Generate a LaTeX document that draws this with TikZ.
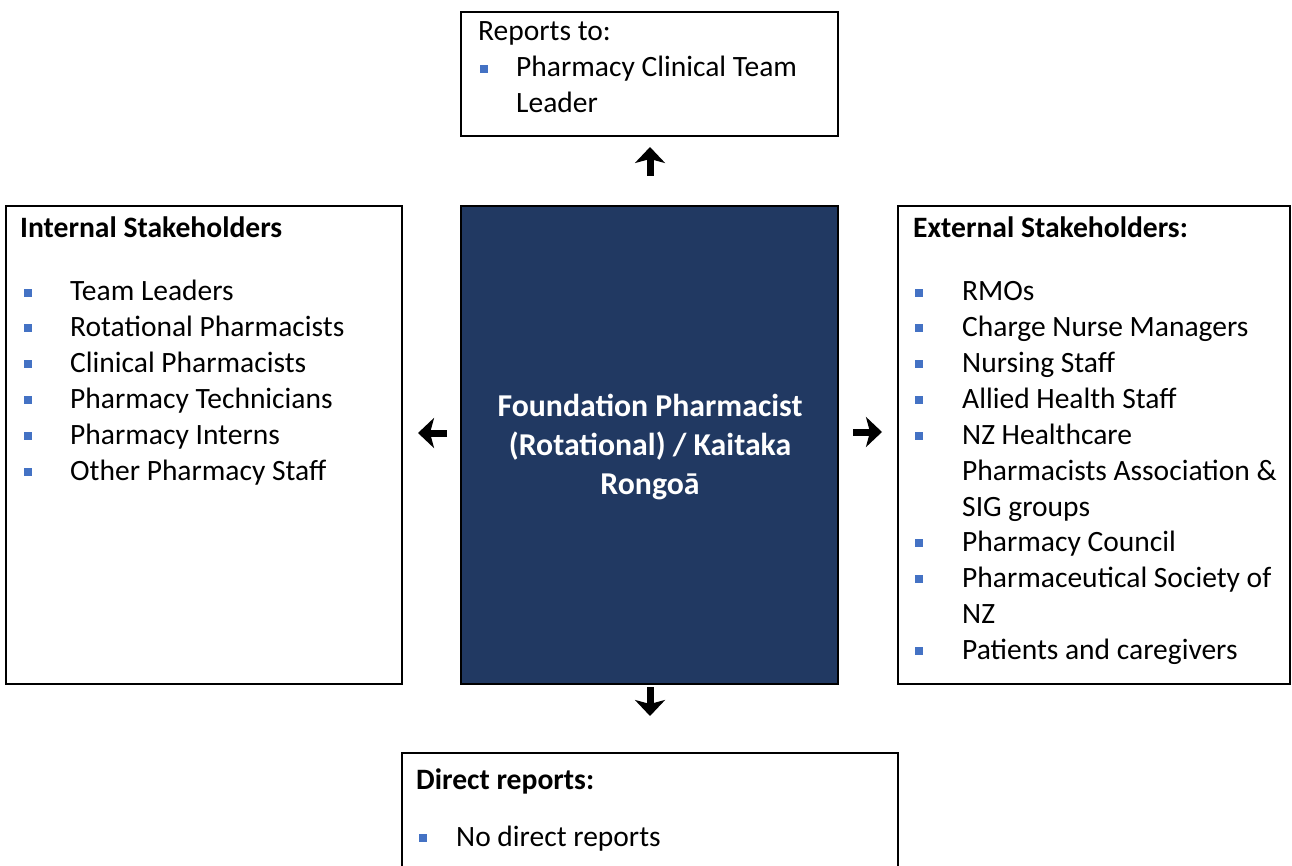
\documentclass[tikz,border=0pt]{standalone}
\usepackage{fontspec}
\setmainfont{Carlito}
\usetikzlibrary{arrows.meta}
\definecolor{navy}{RGB}{33,57,98}
\definecolor{bulletblue}{RGB}{68,114,196}
\newcommand{\bul}[1]{\textcolor{bulletblue}{\rule[4pt]{8pt}{8pt}}\hspace{#1}}
\begin{document}
\begin{tikzpicture}[x=1pt,y=-1pt,
  box/.style={draw=black,line width=2pt,inner sep=0pt},
  txt/.style={anchor=base west,inner sep=0pt,font=\fontsize{29.5}{36}\selectfont},
  head/.style={txt,font=\fontsize{29.6}{36}\selectfont\bfseries},
  ctr/.style={anchor=base,inner sep=0pt,text=white,font=\fontsize{31.8}{39}\selectfont\bfseries},
  glyph/.style={line width=7pt,-{Stealth[inset=4pt,length=16pt,width=30pt]}}]
\useasboundingbox (0,0) rectangle (1292,866);
\clip (0,0) rectangle (1292,866);
\fill[white] (0,0) rectangle (1292,866);
% boxes
\node[box,minimum width=377pt,minimum height=124pt] (top) at (649.5,74) {};
\node[box,minimum width=396pt,minimum height=478pt] (left) at (204,445) {};
\node[box,fill=navy,minimum width=377pt,minimum height=478pt] (center) at (649.5,445) {};
\node[box,minimum width=392pt,minimum height=478pt] (right) at (1094,445) {};
\node[box,minimum width=496pt,minimum height=130pt] (bottom) at (650,818) {};
% top box text
\node[txt] (t0) at (478,41) {Reports to:};
\node[txt] (t1) at (480,77) {\bul{28pt}Pharmacy Clinical Team};
\node[txt] (t2) at (516,113) {Leader};
% left box text
\node[head] (l0) at (20,238) {Internal Stakeholders};
\node[txt] (l1) at (24,301) {\bul{38pt}Team Leaders};
\node[txt] (l2) at (24,336) {\bul{38pt}Rotational Pharmacists};
\node[txt] (l3) at (24,372) {\bul{38pt}Clinical Pharmacists};
\node[txt] (l4) at (24,408) {\bul{38pt}Pharmacy Technicians};
\node[txt] (l5) at (24,444) {\bul{38pt}Pharmacy Interns};
\node[txt] (l6) at (24,480) {\bul{38pt}Other Pharmacy Staff};
% right box text
\node[head] (r0) at (913,238) {External Stakeholders:};
\node[txt] (r1) at (915,301) {\bul{39pt}RMOs};
\node[txt] (r2) at (915,336) {\bul{39pt}Charge Nurse Managers};
\node[txt] (r3) at (915,372) {\bul{39pt}Nursing Staff};
\node[txt] (r4) at (915,408) {\bul{39pt}Allied Health Staff};
\node[txt] (r5) at (915,444) {\bul{39pt}NZ Healthcare};
\node[txt] (r5b) at (962,480) {Pharmacists Association \&};
\node[txt] (r5c) at (962,516) {SIG groups};
\node[txt] (r6) at (915,551) {\bul{39pt}Pharmacy Council};
\node[txt] (r7) at (915,587) {\bul{39pt}Pharmaceutical Society of};
\node[txt] (r7b) at (962,623) {NZ};
\node[txt] (r8) at (915,659) {\bul{39pt}Patients and caregivers};
% center text
\node[ctr] (c1) at (650,416) {Foundation Pharmacist};
\node[ctr] (c2) at (650,455) {(Rotational) / Kaitaka};
\node[ctr] (c3) at (650,494) {Rongoā};
% bottom box text
\node[head] (b0) at (416,789) {Direct reports:};
\node[txt] (b1) at (419,846) {\bul{29pt}No direct reports};
% arrow glyphs
\coordinate (ua) at (650,176);
\coordinate (ub) at (650,147);
\coordinate (da) at (650,687);
\coordinate (db) at (650,716);
\coordinate (la) at (447,433);
\coordinate (lb) at (418,433);
\coordinate (ra) at (853,432);
\coordinate (rb) at (882,432);
\draw[glyph] (ua) -- (ub);
\draw[glyph] (da) -- (db);
\draw[glyph] (la) -- (lb);
\draw[glyph] (ra) -- (rb);
\end{tikzpicture}
\end{document}
